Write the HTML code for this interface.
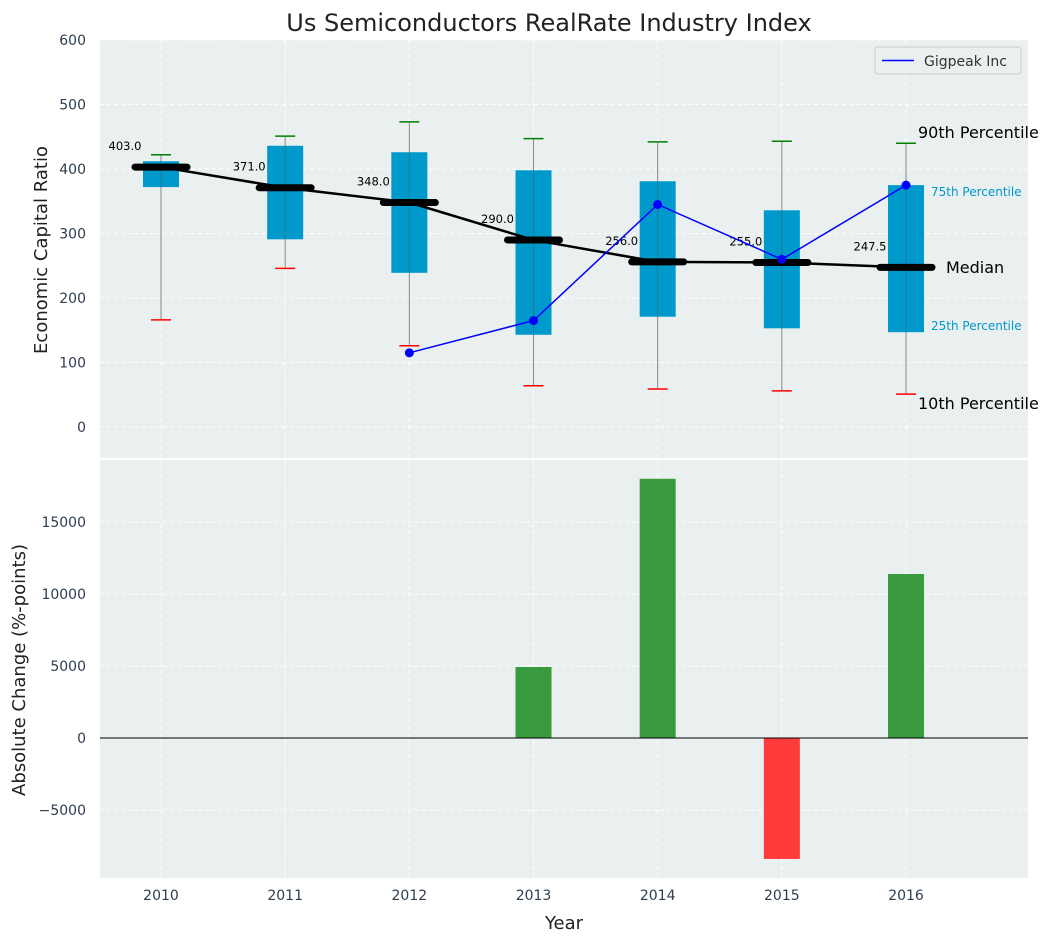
<!DOCTYPE html>
<html><head><meta charset="utf-8"><style>
body{margin:0;background:#fff;font-family:"Liberation Sans","DejaVu Sans",sans-serif}
svg text{font-family:"DejaVu Sans","Liberation Sans",sans-serif}
</style></head><body>
<svg id="c" width="1053" height="942"></svg>
<script>
const years=[2010,2011,2012,2013,2014,2015,2016];
const p90=[422,451,473,447,442,443,440];
const p75=[412,436,426,398,381,336,375];
const medians=[403,371,348,290,256,255,247.5];
const p25=[372,291,239,143,171,153,147];
const p10=[166,246,126,64,59,56,51];
const gigYears=[2012,2013,2014,2015,2016];
const gigVals=[115,165,345,260,375];
const changeYears=[2013,2014,2015,2016];
const changeVals=[4930,18000,-8400,11390];
const topTicks=[0,100,200,300,400,500,600];
const botTicks=[-5000,0,5000,10000,15000];

const NS="http://www.w3.org/2000/svg";
const svg=document.getElementById('c');
function el(t,a,p){const e=document.createElementNS(NS,t);for(const k in a)e.setAttribute(k,a[k]);(p||svg).appendChild(e);return e;}
const X=y=>161+(y-2010)*124.17;
const Y1=v=>427-v*0.645;
const Y2=v=>738-v*0.0144;
const L=100,R=1028;

// panels
let g=el('rect',{x:L,y:40,width:R-L,height:418,fill:'#eaeff0'});

g=el('rect',{x:L,y:460,width:R-L,height:418,fill:'#eaeff0'});


// grids
years.forEach(y=>{
 el('line',{x1:X(y),x2:X(y),y1:40,y2:458,stroke:'#fff','stroke-dasharray':'4,3','stroke-width':1});
 el('line',{x1:X(y),x2:X(y),y1:460,y2:878,stroke:'#fff','stroke-dasharray':'4,3','stroke-width':1});
 let t=el('text',{x:X(y),y:900,'text-anchor':'middle','font-size':14,fill:'#2d3e50'});t.textContent=y;
 
});
topTicks.forEach(v=>{
 el('line',{x1:L,x2:R,y1:Y1(v),y2:Y1(v),stroke:'#fff','stroke-dasharray':'4,3'});
 let t=el('text',{x:86,y:Y1(v)+5,'text-anchor':'end','font-size':14,fill:'#2d3e50'});t.textContent=v;
 
});
botTicks.forEach(v=>{
 el('line',{x1:L,x2:R,y1:Y2(v),y2:Y2(v),stroke:'#fff','stroke-dasharray':'4,3'});
 let t=el('text',{x:86,y:Y2(v)+5,'text-anchor':'end','font-size':14,fill:'#2d3e50'});t.textContent=(v<0?'\u2212'+(-v):v);
 
});

// boxes
years.forEach((y,i)=>{
 const x=X(y);
 el('line',{x1:x,x2:x,y1:Y1(p90[i]),y2:Y1(p10[i]),stroke:'#888','stroke-width':1});
 let b=el('rect',{x:x-18,y:Y1(p75[i]),width:36,height:Y1(p25[i])-Y1(p75[i]),fill:'#0099cc'});
 
 el('line',{x1:x,x2:x,y1:Y1(p75[i]),y2:Y1(p25[i]),stroke:'#555','stroke-width':0.8,opacity:0.6});
 el('line',{x1:x-10,x2:x+10,y1:Y1(p90[i]),y2:Y1(p90[i]),stroke:'green','stroke-width':1.5});
 el('line',{x1:x-10,x2:x+10,y1:Y1(p10[i]),y2:Y1(p10[i]),stroke:'red','stroke-width':1.5});
});
// median line
el('polyline',{points:years.map((y,i)=>X(y)+','+Y1(medians[i])).join(' '),fill:'none',stroke:'#000','stroke-width':2.5});
years.forEach((y,i)=>{
 let m=el('line',{x1:X(y)-26,x2:X(y)+26,y1:Y1(medians[i]),y2:Y1(medians[i]),stroke:'#000','stroke-width':7,'stroke-linecap':'round'});
 
 let t=el('text',{x:X(y)-36,y:Y1(medians[i])-17,'text-anchor':'middle','font-size':11.5,fill:'#000'});t.textContent=medians[i].toFixed(1);
 
});
// gigpeak
el('polyline',{points:gigYears.map((y,i)=>X(y)+','+Y1(gigVals[i])).join(' '),fill:'none',stroke:'blue','stroke-width':1.5});
gigYears.forEach((y,i)=>{let c=el('circle',{cx:X(y),cy:Y1(gigVals[i]),r:4.5,fill:'blue'});
 });

// annotations
[['90th Percentile',918,138,16,'#000'],['75th Percentile',931,196,12,'#0099cc'],['Median',946,273,16,'#000'],['25th Percentile',931,330,12,'#0099cc'],['10th Percentile',918,409,16,'#000']].forEach(a=>{
 let t=el('text',{x:a[1],y:a[2],'font-size':a[3],fill:a[4]});t.textContent=a[0];
 
});

// legend
g=el('g',{});
el('rect',{x:875,y:47,width:146,height:27,fill:'#eaeff0',stroke:'#ccc',rx:3},g);
el('line',{x1:882,x2:914,y1:60.5,y2:60.5,stroke:'blue','stroke-width':1.5},g);
let lt=el('text',{x:924,y:66,'font-size':14,fill:'#333'},g);lt.textContent='Gigpeak Inc';

// bars
changeYears.forEach((y,i)=>{
 const v=changeVals[i];
 let b=el('rect',{x:X(y)-18,y:Math.min(Y2(v),Y2(0)),width:36,height:Math.abs(Y2(v)-Y2(0)),fill:v>=0?'#3a9b3e':'#ff3b3b'});
 
});
el('line',{x1:L,x2:R,y1:Y2(0),y2:Y2(0),stroke:'#000','stroke-width':1});

// titles
let t=el('text',{x:549,y:31,'text-anchor':'middle','font-size':24,fill:'#222'});t.textContent='Us Semiconductors RealRate Industry Index';

t=el('text',{x:564,y:929,'text-anchor':'middle','font-size':18,fill:'#222'});t.textContent='Year';

t=el('text',{x:0,y:0,'text-anchor':'middle','font-size':18,fill:'#222',transform:'translate(47,250) rotate(-90)'});t.textContent='Economic Capital Ratio';

t=el('text',{x:0,y:0,'text-anchor':'middle','font-size':18,fill:'#222',transform:'translate(25,670) rotate(-90)'});t.textContent='Absolute Change (%-points)';

</script>
</body></html>
